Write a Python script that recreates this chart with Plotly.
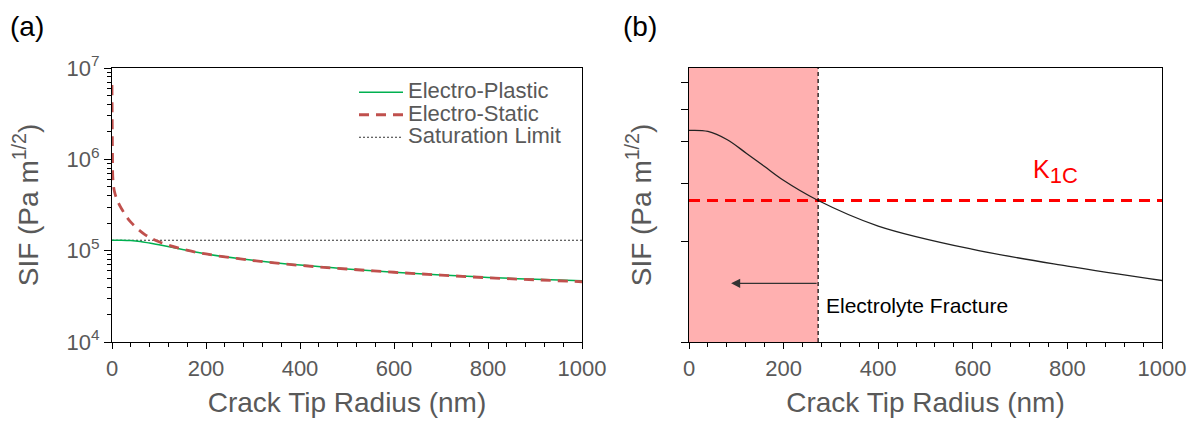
import numpy as np
import plotly.graph_objects as go

# ---------------- data ----------------
# Panel (a)
plastic_x = [0, 20, 40, 60, 80, 100, 150, 200, 300, 400, 500, 600, 700, 800, 900, 1000]
plastic_y = [1.30e5, 1.30e5, 1.29e5, 1.26e5, 1.21e5, 1.16e5, 1.03e5, 9.2e4, 7.85e4, 6.95e4,
             6.3e4, 5.8e4, 5.42e4, 5.1e4, 4.85e4, 4.68e4]
static_x = [0, 0.5, 1, 2, 5, 10, 20, 40, 70, 100, 150, 200, 300, 400, 500, 600, 700, 800, 900, 1000]
static_y = [6.5e6, 2.5e6, 1.2e6, 6.0e5, 4.5e5, 3.7e5, 2.9e5, 2.05e5, 1.5e5, 1.25e5, 1.04e5, 9.2e4,
            7.8e4, 6.9e4, 6.3e4, 5.8e4, 5.4e4, 5.05e4, 4.8e4, 4.57e4]
sat_x = [0, 1000]
sat_level = 1.30e5
legend_names = ["Electro-Plastic", "Electro-Static", "Saturation Limit"]

# Panel (b)
sif_x = [0, 40, 81, 121, 159, 198, 271, 400, 598, 800, 1000]
sif_y = [4.32e5, 4.29e5, 4.05e5, 3.69e5, 3.37e5, 3.07e5, 2.67e5, 2.23e5, 1.90e5, 1.69e5, 1.53e5]
k1c = 2.66e5
fracture_x = 273
arrow_head_x = 89
arrow_y = 1.50e5
label_fracture_y = 1.29e5
label_k1c_x = 722
label_k1c_y = 3.26e5

xticks = [0, 200, 400, 600, 800, 1000]
ya_ticks = [1e4, 1e5, 1e6, 1e7]
ya_text = ["10<sup>4</sup>", "10<sup>5</sup>", "10<sup>6</sup>", "10<sup>7</sup>"]
yb_ticks = [1e5, 2e5, 3e5, 4e5, 5e5, 6e5]

FONT = "Arial, Liberation Sans, sans-serif"
GRAY = "#595959"

W, H = 1196, 421
def px(x):
    return x / W
def py(y):
    return 1 - y / H

def lname(s):
    return "<span style='font-size:22px'>" + s + "</span>"

fig = go.Figure()

# Panel (a) traces
fig.add_trace(go.Scatter(x=sat_x, y=[sat_level] * len(sat_x), mode="lines",
                         name=lname(legend_names[2]), legendrank=3,
                         line=dict(color="#333333", width=1, dash="2px,2px"),
                         xaxis="x", yaxis="y"))
fig.add_trace(go.Scatter(x=plastic_x, y=plastic_y, mode="lines", name=lname(legend_names[0]),
                         legendrank=1, line=dict(color="#00B050", width=1.5, shape="spline"),
                         xaxis="x", yaxis="y"))
fig.add_trace(go.Scatter(x=static_x, y=static_y, mode="lines", name=lname(legend_names[1]),
                         legendrank=2, line=dict(color="#C0504D", width=2.8, dash="10px,7px",
                                                 shape="spline"),
                         xaxis="x", yaxis="y"))

# Panel (b) traces
fig.add_trace(go.Scatter(x=[0, 1000], y=[k1c, k1c], mode="lines", showlegend=False,
                         line=dict(color="#FF0000", width=3, dash="11px,7px"),
                         xaxis="x2", yaxis="y2"))
fig.add_trace(go.Scatter(x=sif_x, y=sif_y, mode="lines", showlegend=False,
                         line=dict(color="#222222", width=1.3, shape="spline"),
                         xaxis="x2", yaxis="y2"))

# Shaded region + dashed fracture line
fig.add_shape(type="rect", xref="x2", yref="y2 domain", x0=0, x1=fracture_x, y0=0, y1=1,
              fillcolor="#FFB0B0", line=dict(width=0), layer="below")
fig.add_shape(type="line", xref="x2", yref="y2 domain", x0=fracture_x, x1=fracture_x, y0=0, y1=1,
              line=dict(color="black", width=1.2, dash="4px,3px"))

axis_common = dict(showline=True, linecolor="black", linewidth=1.3, mirror=True,
                   showgrid=False, zeroline=False, ticks="outside", tickcolor="black",
                   automargin=False,
                   tickfont=dict(family=FONT, size=22, color=GRAY))
xcommon = dict(axis_common, range=[0, 1000], tickvals=xticks, ticklen=6,
               minor=dict(ticks="outside", dtick=40, ticklen=4, tickcolor="black"),
               title=dict(text="Crack Tip Radius (nm)",
                          font=dict(family=FONT, size=28, color=GRAY), standoff=12))

ydom = [py(342), py(68)]
fig.update_layout(
    width=W, height=H, margin=dict(l=0, r=0, t=0, b=0, autoexpand=False),
    paper_bgcolor="white", plot_bgcolor="rgba(0,0,0,0)",
    font=dict(family=FONT, color=GRAY),
    xaxis=dict(xcommon, domain=[px(112), px(582)], anchor="y"),
    yaxis=dict(axis_common, type="log", range=[4, 7], domain=ydom, anchor="x",
               tickvals=ya_ticks, ticktext=ya_text, ticklen=7,
               minor=dict(ticks="outside", dtick="D1", ticklen=4, tickcolor="black"),
               title=dict(text="SIF (Pa m<sup>1/2</sup>)",
                          font=dict(family=FONT, size=28, color=GRAY), standoff=19)),
    xaxis2=dict(xcommon, domain=[px(689), px(1162)], anchor="y2"),
    yaxis2=dict(axis_common, type="log", range=[5, np.log10(6.65e5)], domain=ydom, anchor="x2",
                tickvals=yb_ticks, showticklabels=False, ticklen=7,
                title=dict(text="SIF (Pa m<sup>1/2</sup>)",
                           font=dict(family=FONT, size=28, color=GRAY), standoff=21)),
    legend=dict(x=px(354), y=py(76), xanchor="left", yanchor="top",
                bgcolor="rgba(0,0,0,0)", font=dict(family=FONT, size=15, color=GRAY),
                tracegroupgap=0, itemwidth=44),
    showlegend=True,
)

annotations = [
    dict(text="(a)", x=px(8), y=py(27), xref="paper", yref="paper", xanchor="left",
         yanchor="middle", showarrow=False, font=dict(family=FONT, size=28, color="black")),
    dict(text="(b)", x=px(621), y=py(27), xref="paper", yref="paper", xanchor="left",
         yanchor="middle", showarrow=False, font=dict(family=FONT, size=28, color="black")),
    dict(text="K<sub><span style='font-size:22px'>1C</span></sub>", x=label_k1c_x,
         y=np.log10(label_k1c_y), xref="x2", yref="y2", xanchor="left", yanchor="middle",
         showarrow=False, font=dict(family=FONT, size=25, color="#FF0000")),
    dict(text="Electrolyte Fracture", x=fracture_x + 12, y=np.log10(label_fracture_y),
         xref="x2", yref="y2", xanchor="left", yanchor="middle", showarrow=False,
         font=dict(family=FONT, size=21, color="black")),
    dict(text="", x=arrow_head_x, y=np.log10(arrow_y), ax=fracture_x, ay=np.log10(arrow_y),
         xref="x2", yref="y2", axref="x2", ayref="y2", showarrow=True, arrowhead=2,
         arrowsize=1.4, arrowwidth=1.3, arrowcolor="#333333"),
]
fig.update_layout(annotations=annotations)

fig.write_html("out.html")
